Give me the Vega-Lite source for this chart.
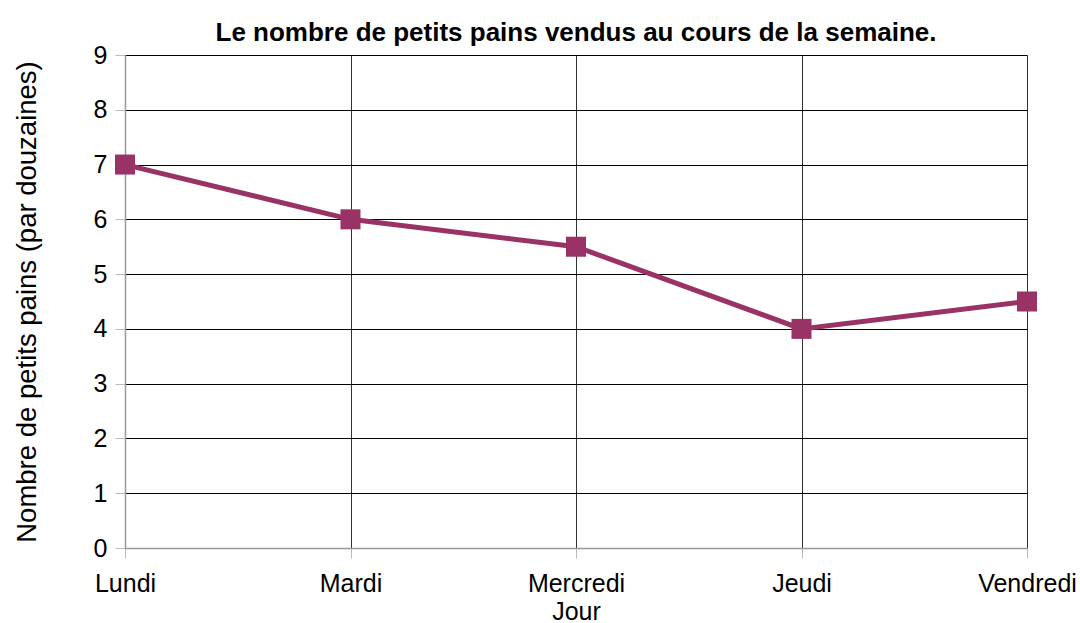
{
  "$schema": "https://vega.github.io/schema/vega-lite/v6.json",
  "width": 902,
  "height": 493,
  "autosize": {"type": "none"},
  "padding": {"left": 125, "top": 55, "right": 53, "bottom": 75},
  "background": "white",
  "config": {
    "font": "Liberation Sans",
    "view": {"stroke": null}
  },
  "title": {
    "text": "Le nombre de petits pains vendus au cours de la semaine.",
    "font": "Liberation Sans",
    "fontSize": 26,
    "fontWeight": "bold",
    "color": "black",
    "offset": -3,
    "anchor": "middle"
  },
  "data": {
    "values": [
      {"jour": "Lundi", "valeur": 7},
      {"jour": "Mardi", "valeur": 6},
      {"jour": "Mercredi", "valeur": 5.5},
      {"jour": "Jeudi", "valeur": 4},
      {"jour": "Vendredi", "valeur": 4.5}
    ]
  },
  "encoding": {
    "x": {
      "field": "jour",
      "type": "ordinal",
      "sort": null,
      "scale": {"type": "point", "padding": 0},
      "axis": {
        "title": "Jour",
        "titleFontSize": 25,
        "titleFontWeight": "normal",
        "titleColor": "black",
        "titlePadding": 3,
        "labelAngle": 0,
        "labelFontSize": 25,
        "labelColor": "black",
        "labelPadding": 13,
        "labelOverlap": false,
        "tickSize": 10,
        "tickColor": "#bbbbbb",
        "domainColor": "#999999",
        "domainWidth": 1.5,
        "grid": true,
        "gridColor": "#333333",
        "gridOpacity": 1
      }
    },
    "y": {
      "field": "valeur",
      "type": "quantitative",
      "scale": {"domain": [0, 9], "nice": false},
      "axis": {
        "title": "Nombre de petits pains (par douzaines)",
        "titleFontSize": 27.5,
        "titleFontWeight": "normal",
        "titleColor": "black",
        "titlePadding": 52,
        "values": [0, 1, 2, 3, 4, 5, 6, 7, 8, 9],
        "labelOverlap": false,
        "labelFontSize": 25,
        "labelColor": "black",
        "labelPadding": 8,
        "tickSize": 10,
        "tickColor": "#bbbbbb",
        "domainColor": "#999999",
        "domainWidth": 1.5,
        "grid": true,
        "gridColor": "#000000",
        "gridOpacity": 1
      }
    }
  },
  "layer": [
    {
      "mark": {"type": "line", "color": "#993366", "strokeWidth": 5}
    },
    {
      "mark": {"type": "point", "shape": "square", "filled": true, "color": "#993366", "size": 400, "opacity": 1}
    }
  ]
}
